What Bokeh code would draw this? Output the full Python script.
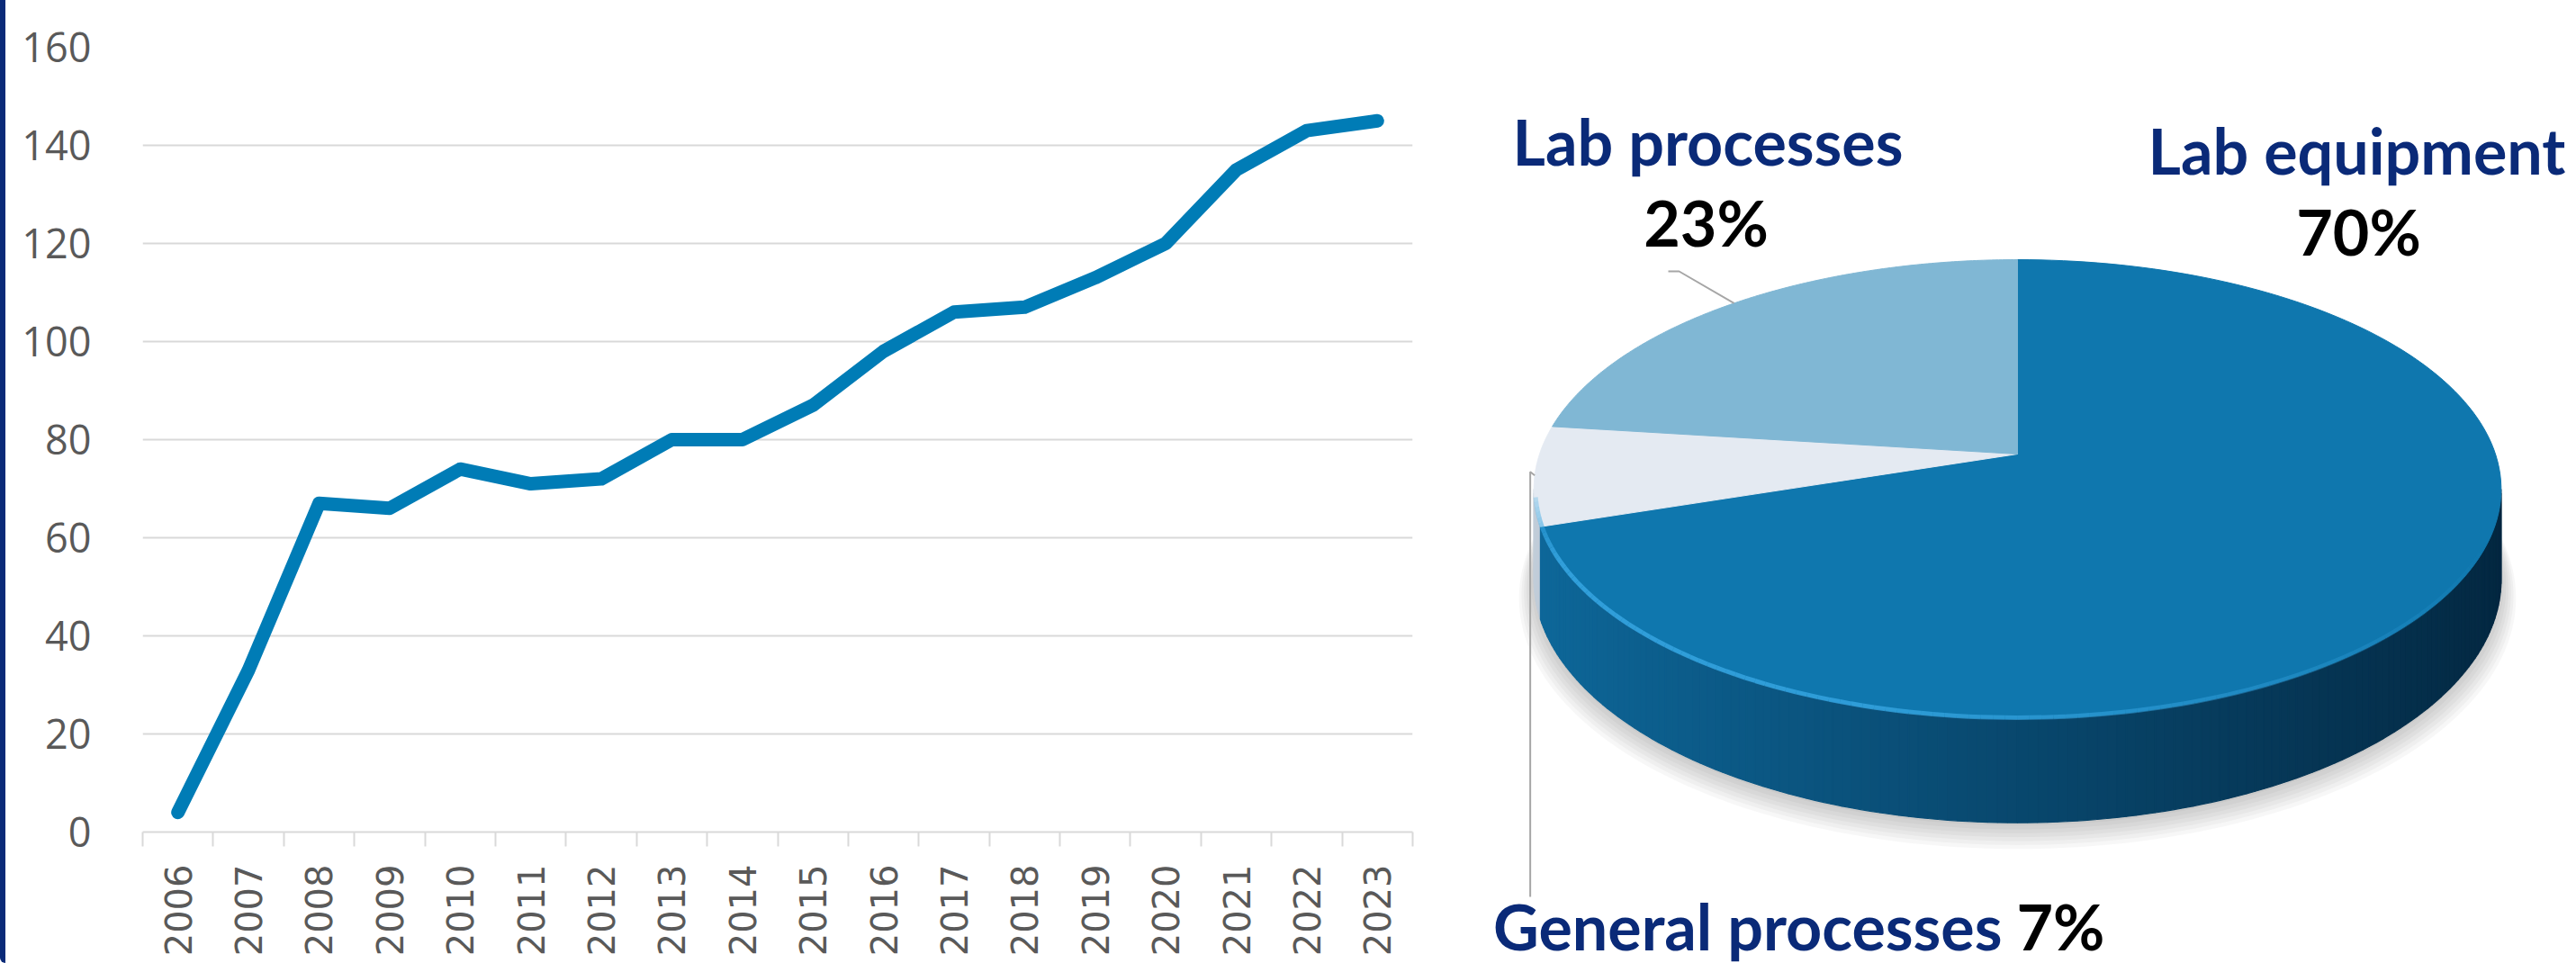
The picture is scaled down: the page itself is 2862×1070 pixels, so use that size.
import numpy as np
from bokeh.plotting import figure
from bokeh.layouts import row
from bokeh.models import Range1d, FixedTicker, ColumnDataSource, Div
from bokeh.embed import file_html
from bokeh.resources import INLINE
from bokeh.core.properties import value

# ---------------- data ----------------
years = [2006, 2007, 2008, 2009, 2010, 2011, 2012, 2013, 2014,
         2015, 2016, 2017, 2018, 2019, 2020, 2021, 2022, 2023]
cumulative = [4, 33, 67, 66, 74, 71, 72, 80, 80,
              87, 98, 106, 107, 113, 120, 135, 143, 145]
y_ticks = [0, 20, 40, 60, 80, 100, 120, 140, 160]

pie_labels = ["Lab equipment", "General processes", "Lab processes"]
pie_shares = [70, 7, 23]

# ---------------- styles ----------------
LINE_COLOR = "#007CB6"
GRID_COLOR = "#D9D9D9"
TICK_TEXT = "#595959"
NAVY = "#0A2A78"
top_colors = ["#0F77AE", "#E4EAF2", "#80B7D4"]
side_left = ["#0E699C", "#C3CEDA", "#6A9FBE"]
side_right = ["#03263F", "#5F6C79", "#2D5C78"]
NAME_FONT = "Lato"
NAME_SIZE = "70px"
TEXT_DY = -26  # compensation for how the text glyph places its baseline


def hex2rgb(h):
    return tuple(int(h[i:i + 2], 16) for i in (1, 3, 5))


def lerp(c1, c2, t):
    a, b = hex2rgb(c1), hex2rgb(c2)
    return "#%02x%02x%02x" % tuple(int(round(a[i] + (b[i] - a[i]) * t)) for i in range(3))


W_TOTAL, H = 2862, 1070
BAR_W = 6
LEFT_W = 1608  # width of the line-chart panel including the bar

# ---------------- left border bar ----------------
bar = Div(text="", width=BAR_W, height=H, margin=0,
          styles={"background-color": NAVY, "border-bottom-left-radius": "6px"})

# ---------------- left: line chart ----------------
p1 = figure(frame_width=1411, frame_height=872,
            x_range=Range1d(years[0] - 0.5, years[-1] + 0.5),
            y_range=Range1d(y_ticks[0], y_ticks[-1]),
            output_backend="svg", toolbar_location=None,
            min_border_left=158 - BAR_W, min_border_right=LEFT_W - 158 - 1411,
            min_border_top=52, min_border_bottom=H - 52 - 872)
p1.frame_align = False
p1.outline_line_color = None
p1.xgrid.visible = False
p1.yaxis.ticker = FixedTicker(ticks=y_ticks)
p1.ygrid.grid_line_color = GRID_COLOR
p1.ygrid.grid_line_width = 2
p1.yaxis.axis_line_color = None
p1.yaxis.major_tick_line_color = None
p1.yaxis.minor_tick_line_color = None
p1.yaxis.major_label_text_font = "Open Sans"
p1.yaxis.major_label_text_font_size = "45px"
p1.yaxis.major_label_text_color = TICK_TEXT
p1.yaxis.major_label_standoff = 51

bounds_x = [y - 0.5 for y in years] + [years[-1] + 0.5]
p1.xaxis.ticker = FixedTicker(ticks=years, minor_ticks=bounds_x)
p1.xaxis.major_tick_in = 0
p1.xaxis.major_tick_out = 0
p1.xaxis.minor_tick_in = 0
p1.xaxis.minor_tick_out = 16
p1.xaxis.minor_tick_line_color = GRID_COLOR
p1.xaxis.minor_tick_line_width = 2
p1.xaxis.axis_line_color = GRID_COLOR
p1.xaxis.axis_line_width = 2
p1.xaxis.major_label_orientation = np.pi / 2
p1.xaxis.major_label_text_font = "DejaVu Sans"
p1.xaxis.major_label_text_font_size = "40px"
p1.xaxis.major_label_text_color = TICK_TEXT
p1.xaxis.major_label_standoff = 20

p1.line(years, cumulative, line_color=LINE_COLOR, line_width=15,
        line_cap="round", line_join="round")

# ---------------- right: 3D pie ----------------
X0 = LEFT_W
PW = W_TOTAL - X0
p2 = figure(frame_width=PW, frame_height=H,
            x_range=Range1d(X0, X0 + PW), y_range=Range1d(H, 0),
            output_backend="svg", toolbar_location=None, min_border=0)
p2.frame_align = False
p2.axis.visible = False
p2.grid.visible = False
p2.outline_line_color = None

CX, CY, RA, RB, K, D0 = 2241.0, 504.0, 531.0, 249.0, 0.153, 98.0


def proj(theta, r=1.0):
    t = np.radians(theta)
    u = r * np.cos(t)
    v = r * np.sin(t)
    s = 1.0 / (1.0 + K * v)
    return CX + RA * u * s, CY - RB * v * s, s


total = float(sum(pie_shares))
bounds = []
a = 90.0
for sh in pie_shares:
    b = a - 360.0 * sh / total
    bounds.append((a, b))
    a = b


def owner(theta):
    t = theta
    while t > 90:
        t -= 360
    while t <= -270:
        t += 360
    for i, (a0, a1) in enumerate(bounds):
        if a1 <= t <= a0:
            return i
    return 0


# shadow
full = np.linspace(0, 360, 241)
sh_xs, sh_ys = [], []
for i in range(7):
    r = 1.0 + 0.005 * i
    X, Y, S = proj(full, r)
    Y = Y + D0 * S + 3 + 2.5 * i
    sh_xs.append(list(X))
    sh_ys.append(list(Y))
p2.patches(sh_xs, sh_ys, fill_color="#000000", fill_alpha=0.03, line_color=None)

# side
thL = 180 + np.degrees(np.arcsin(K))
thR = 360 - np.degrees(np.arcsin(K))
edges = list(np.linspace(thL, thR, 161))
for (a0, a1) in bounds:
    t = a0 % 360
    if thL < t < thR:
        edges.append(t)
edges = sorted(set(edges))
sx, sy, sc = [], [], []
for e0, e1 in zip(edges[:-1], edges[1:]):
    m = 0.5 * (e0 + e1)
    i = owner(m)
    xa, ya, sa = proj(e0)
    xb, yb, sb = proj(e1)
    sx.append([xa, xb, xb, xa])
    sy.append([ya, yb, yb + D0 * sb, ya + D0 * sa])
    tt = (np.cos(np.radians(m)) + 1) / 2
    sc.append(lerp(side_left[i], side_right[i], tt))
side_src = ColumnDataSource(dict(xs=sx, ys=sy, c=sc))
p2.patches("xs", "ys", fill_color="c", line_color="c", line_width=1.2, source=side_src)

# top face
tx, ty = [], []
for (a0, a1) in bounds:
    th = np.linspace(a0, a1, 160)
    X, Y, _ = proj(th)
    tx.append([CX] + list(X))
    ty.append([CY] + list(Y))
top_src = ColumnDataSource(dict(xs=tx, ys=ty, c=top_colors, name=pie_labels))
p2.patches("xs", "ys", fill_color="c", line_color="c", line_width=1, source=top_src)

# highlight on front edge
hl = np.linspace(thL + 2, 338, 120)
hx, hy, ha = [], [], []
for e0, e1 in zip(hl[:-1], hl[1:]):
    xa, ya, _ = proj(e0, 0.997)
    xb, yb, _ = proj(e1, 0.997)
    hx.append([xa, xb])
    hy.append([ya, yb])
    m = 0.5 * (e0 + e1)
    ha.append(float(np.interp(m, [thL + 2, 206, 255, 338], [0.25, 0.85, 0.8, 0.0])))
hl_src = ColumnDataSource(dict(xs=hx, ys=hy, a=ha))
p2.multi_line("xs", "ys", line_color="#37A6E2", line_alpha="a", line_width=5, source=hl_src)

# label anchors (baselines)
LEAD = "#A6A6A6"
proc_name_pos = (1897, 182)
proc_pct_pos = (1895, 272)
eq_name_pos = (2618, 192)
eq_pct_pos = (2620, 282)
gen_pos = (2224, 1054)

# leader lines
mp = 0.5 * (bounds[2][0] + bounds[2][1])
px, py, _ = proj(mp)
p2.line([px, proc_pct_pos[0] - 30, proc_pct_pos[0] - 42],
        [py, proc_pct_pos[1] + 29, proc_pct_pos[1] + 29], line_color=LEAD, line_width=2)

mg = 0.5 * (bounds[1][0] + bounds[1][1])
gx, gy, _ = proj(mg)
p2.line([gx, gx - 5, gx - 5], [gy, gy - 4, gen_pos[1] - 58], line_color=LEAD, line_width=2)

# labels
pct = ["%d%%" % s for s in pie_shares]
common = dict(text_font=value(NAME_FONT), text_font_style="bold",
              text_font_size=value(NAME_SIZE), text_baseline="alphabetic")
p2.text(x=[eq_name_pos[0], proc_name_pos[0]],
        y=[eq_name_pos[1] + TEXT_DY, proc_name_pos[1] + TEXT_DY],
        text=[pie_labels[0], pie_labels[2]], text_color=NAVY, text_align="center", **common)
p2.text(x=[eq_pct_pos[0], proc_pct_pos[0]],
        y=[eq_pct_pos[1] + TEXT_DY, proc_pct_pos[1] + TEXT_DY],
        text=[pct[0], pct[2]], text_color="#000000", text_align="center", **common)
p2.text(x=[gen_pos[0]], y=[gen_pos[1] + TEXT_DY], text=[pie_labels[1]], text_color=NAVY,
        text_align="right", **common)
p2.text(x=[gen_pos[0] + 16], y=[gen_pos[1] + TEXT_DY], text=[pct[1]], text_color="#000000",
        text_align="left", **common)

layout = row(bar, p1, p2)
open("out.html", "w").write(file_html(layout, INLINE))
